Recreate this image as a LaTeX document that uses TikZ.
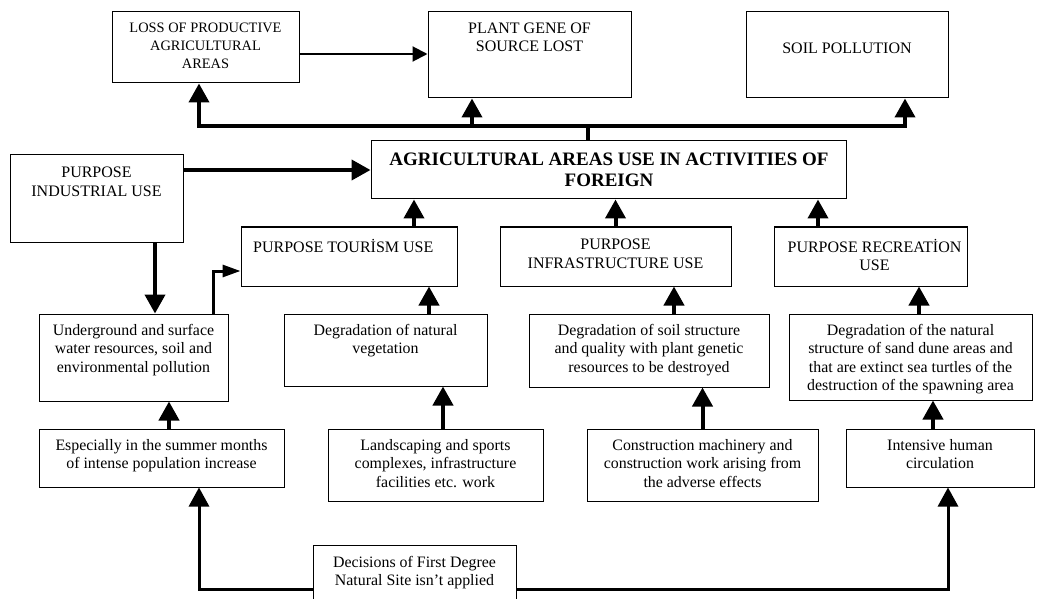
\documentclass[tikz,border=0pt]{standalone}
\usepackage{fontspec}
\setmainfont{Liberation Serif}
\usetikzlibrary{arrows.meta,calc}
\begin{document}
\begin{tikzpicture}[x=1pt,y=-1pt,
  box/.style={draw, line width=1pt, inner sep=0pt, rectangle},
  txt/.style={inner sep=0pt, align=center, anchor=north, font=\fontsize{15.9}{18.5}\selectfont},
  captxt/.style={inner sep=0pt, align=center, anchor=north, font=\fontsize{16}{18.5}\selectfont},
  arr/.style={line width=4pt, -{Triangle[length=19pt,width=20pt]}},
  thinarr/.style={line width=2pt, -{Triangle[length=15pt,width=15pt]}},
  elbarr/.style={line width=3pt, -{Triangle[length=18pt,width=12pt]}},
  barline/.style={line width=3.3pt}
]
\clip (0,0) rectangle (1037,599);
\useasboundingbox (0,0) rectangle (1037,599);

% boxes
\node[box, minimum width=187pt, minimum height=71pt] (loss) at (205.5,47.5) {};
\node[box, minimum width=203pt, minimum height=86pt] (plant) at (529.5,55) {};
\node[box, minimum width=202pt, minimum height=86pt] (soil) at (847,55) {};
\node[box, minimum width=475pt, minimum height=58pt] (main) at (608.5,170) {};
\node[box, minimum width=173pt, minimum height=87pt] (ind) at (96.5,198.5) {};
\node[box, minimum width=216pt, minimum height=59pt] (tour) at (349,256.5) {};
\node[box, minimum width=231pt, minimum height=59pt] (infra) at (615.5,256.5) {};
\node[box, minimum width=193pt, minimum height=59pt] (recr) at (870.5,256.5) {};
\node[box, minimum width=189pt, minimum height=87pt] (under) at (133.5,357.5) {};
\node[box, minimum width=203pt, minimum height=72pt] (veg) at (385.5,350) {};
\node[box, minimum width=240pt, minimum height=73pt] (sdeg) at (649,350.5) {};
\node[box, minimum width=243pt, minimum height=86pt] (sand) at (910.5,357) {};
\node[box, minimum width=245pt, minimum height=58pt] (esp) at (161.5,458) {};
\node[box, minimum width=215pt, minimum height=72pt] (land) at (435.5,465) {};
\node[box, minimum width=231pt, minimum height=72pt] (cons) at (702.5,465) {};
\node[box, minimum width=188pt, minimum height=58pt] (inten) at (940,458) {};
\node[box, minimum width=203pt, minimum height=80pt] (dec) at (414.5,585) {};

% texts
\node[captxt, font=\fontsize{14.4}{18}\selectfont] at (205.5,22.7) {LOSS OF PRODUCTIVE\\AGRICULTURAL\\AREAS};
\node[captxt] at (529.5,22.7) {PLANT GENE OF\\SOURCE LOST};
\node[captxt] at (847,43) {SOIL POLLUTION};
\node[inner sep=0pt, align=center, anchor=north, font=\fontsize{19}{20.5}\selectfont\bfseries] at (609,153) {AGRICULTURAL AREAS USE IN ACTIVITIES OF\\FOREIGN};
\node[captxt] at (96.5,167) {PURPOSE\\INDUSTRIAL USE};
\node[captxt, anchor=north west] at (253,239) {PURPOSE TOURİSM USE};
\node[captxt] at (615.5,239) {PURPOSE\\INFRASTRUCTURE USE};
\node[captxt] at (874.5,239) {PURPOSE RECREATİON\\USE};
\node[txt] at (133.5,324) {Underground and surface\\water resources, soil and\\environmental pollution};
\node[txt] at (385.5,324) {Degradation of natural\\vegetation};
\node[txt] at (649,324) {Degradation of soil structure\\and quality with plant genetic\\resources to be destroyed};
\node[txt] at (910.5,324) {Degradation of the natural\\structure of sand dune areas and\\that are extinct sea turtles of the\\destruction of the spawning area};
\node[txt] at (161.5,439) {Especially in the summer months\\of intense population increase};
\node[txt] at (435.5,439) {Landscaping and sports\\complexes, infrastructure\\facilities etc. work};
\node[txt] at (702.5,439) {Construction machinery and\\construction work arising from\\the adverse effects};
\node[txt] at (940,439) {Intensive human\\circulation};
\node[txt] at (414.5,556) {Decisions of First Degree\\Natural Site isn't applied};

% top connectors
\coordinate (bar) at (588,126);
\draw[barline] ($(main.north)+(-20.5,0)$) -- (bar);
\draw[arr] (bar) -| ($(loss.south)+(-6.5,0)$);
\draw[arr] (bar) -| ($(plant.south)+(-57.5,0)$);
\draw[arr] (bar) -| ($(soil.south)+(58,0)$);
\draw[thinarr] ($(loss.east)+(0,6.5)$) -- ($(plant.west)+(0,-1)$);

% industrial
\draw[arr] (ind.east |- main.west) -- (main.west);
\draw[arr] ($(ind.south)+(58.5,0)$) -- ($(under.north)+(21.5,0)$);
\draw[elbarr] ($(under.north)+(79.5,0)$) |- ($(tour.west)+(0,14.5)$);

% middle row to main
\draw[arr] ($(tour.north)+(65,0)$) -- ($(main.south)+(-194.5,0)$);
\draw[arr] (infra.north) -- (infra.north |- main.south);
\draw[arr] ($(recr.north)+(-52.5,0)$) -- ($(main.south)+(209.5,0)$);

% lower rows
\draw[arr] ($(veg.north)+(43.5,0)$) -- ($(tour.south)+(80,0)$);
\draw[arr] ($(sdeg.north)+(25,0)$) -- ($(infra.south)+(58.5,0)$);
\draw[arr] ($(sand.north)+(8.5,0)$) -- ($(recr.south)+(48.5,0)$);
\draw[arr] ($(esp.north)+(7.5,0)$) -- ($(under.south)+(35.5,0)$);
\draw[arr] ($(land.north)+(7.5,0)$) -- ($(veg.south)+(57.5,0)$);
\draw[arr] (cons.north) -- (cons.north |- sdeg.south);
\draw[arr] ($(inten.north)+(-7,0)$) -- ($(sand.south)+(22.5,0)$);

% bottom
\draw[elbarr, -{Triangle[length=19pt,width=20pt]}] ($(dec.west)+(0,4)$) -| ($(esp.south)+(37.5,0)$);
\draw[elbarr, -{Triangle[length=19pt,width=20pt]}] ($(dec.east)+(0,4)$) -| ($(inten.south)+(8,0)$);
\end{tikzpicture}
\end{document}
